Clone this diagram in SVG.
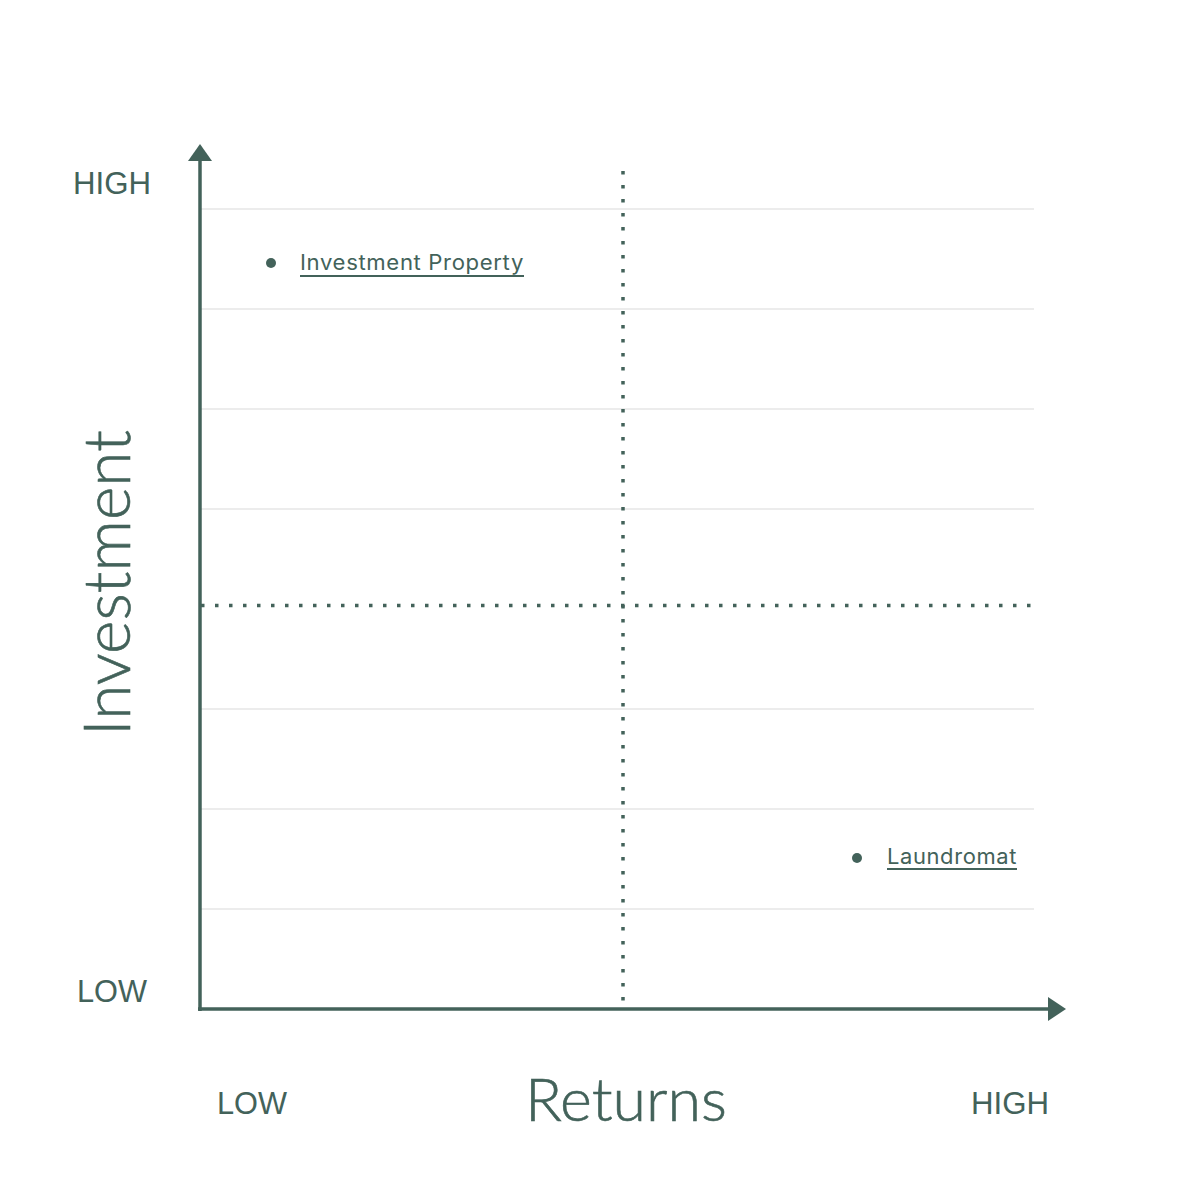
<svg xmlns="http://www.w3.org/2000/svg" width="1200" height="1200" viewBox="0 0 1200 1200">
<style>
.grid{stroke:#e6e6e6;stroke-width:1.5;fill:none}
.axis{stroke:#43625a;stroke-width:3.5;fill:none}
.dot{stroke:#43625a;stroke-width:3.5;stroke-dasharray:3.5 10.5;fill:none}
.lbl{font-family:"Liberation Sans",Arial,sans-serif;font-size:31px;fill:#43625a}
.title{font-family:Lato,"Liberation Sans",sans-serif;font-weight:300;fill:#43625a;stroke:#43625a;stroke-width:0.6}
.item{font-family:Inter,"Liberation Sans",sans-serif;font-size:21px;fill:#43625a;letter-spacing:0.6px}
.ul{stroke:#43625a;stroke-width:1.8}
.head{fill:#43625a}
</style>
<rect width="1200" height="1200" fill="#ffffff"/>
<g id="grid">
<line class="grid" x1="200" y1="209" x2="1034" y2="209"/>
<line class="grid" x1="200" y1="309" x2="1034" y2="309"/>
<line class="grid" x1="200" y1="409" x2="1034" y2="409"/>
<line class="grid" x1="200" y1="509" x2="1034" y2="509"/>
<line class="grid" x1="200" y1="709" x2="1034" y2="709"/>
<line class="grid" x1="200" y1="809" x2="1034" y2="809"/>
<line class="grid" x1="200" y1="909" x2="1034" y2="909"/>
</g>
<g id="connectors">
<line class="dot" x1="201" y1="605.5" x2="1034" y2="605.5"/>
<line class="dot" x1="623" y1="171" x2="623" y2="1004"/>
<line class="axis" x1="200" y1="158" x2="200" y2="1011"/>
<line class="axis" x1="198" y1="1009" x2="1050" y2="1009"/>
<polygon class="head" points="200,144 212,161 188,161"/>
<polygon class="head" points="1066,1009 1048,997 1048,1021"/>
</g>
<g id="labels">
<text class="lbl" x="73" y="194" textLength="78" lengthAdjust="spacingAndGlyphs">HIGH</text>
<text class="lbl" x="77" y="1002" textLength="70" lengthAdjust="spacingAndGlyphs">LOW</text>
<text class="lbl" x="217" y="1114" textLength="70" lengthAdjust="spacingAndGlyphs">LOW</text>
<text class="lbl" x="971" y="1114" textLength="78" lengthAdjust="spacingAndGlyphs">HIGH</text>
<text class="title" x="525" y="1121" font-size="60" textLength="202" lengthAdjust="spacingAndGlyphs">Returns</text>
<text class="title" transform="translate(130,736) rotate(-90)" x="0" y="0" font-size="65" textLength="306" lengthAdjust="spacingAndGlyphs">Investment</text>
</g>
<g id="node-investment-property">
<circle class="head" cx="271" cy="263" r="5"/>
<text class="item" x="300" y="270" textLength="224" lengthAdjust="spacingAndGlyphs">Investment Property</text>
<line class="ul" x1="300" y1="276" x2="524" y2="276"/>
</g>
<g id="node-laundromat">
<circle class="head" cx="857" cy="858" r="5"/>
<text class="item" x="887" y="864" textLength="130" lengthAdjust="spacingAndGlyphs">Laundromat</text>
<line class="ul" x1="887" y1="869" x2="1017" y2="869"/>
</g>
</svg>
